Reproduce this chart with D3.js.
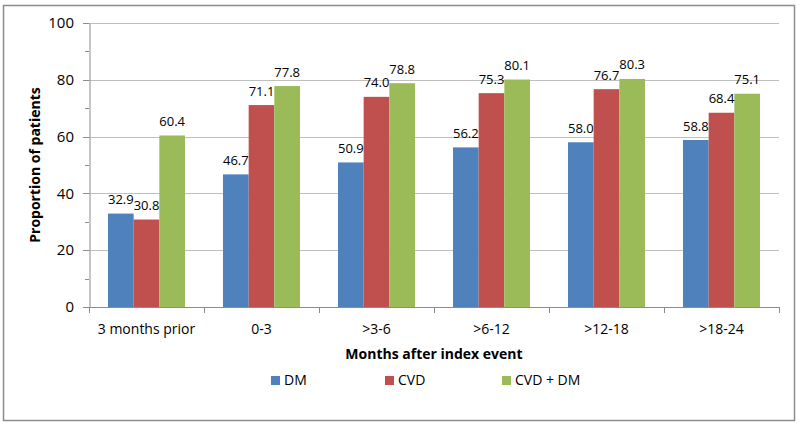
<!DOCTYPE html>
<html><head><meta charset="utf-8">
<script src="https://cdn.jsdelivr.net/npm/d3@7"></script>
<style>
body{margin:0;background:#fff;}
svg{display:block;font-family:"Open Sans", sans-serif;}
</style></head>
<body><svg id="c" width="800" height="426"></svg>
<script>
const categories = ["3 months prior","0-3",">3-6",">6-12",">12-18",">18-24"];
const seriesNames = ["DM","CVD","CVD + DM"];
const dmValues = [32.9,46.7,50.9,56.2,58.0,58.8];
const cvdValues = [30.8,71.1,74.0,75.3,76.7,68.4];
const cvdDmValues = [60.4,77.8,78.8,80.1,80.3,75.1];
const yTicks = [0,20,40,60,80,100];
const colors = ["#4F81BD","#C0504D","#9BBB59"];

(function(){
const svg = d3.select("#c");
svg.append("rect").attr("x",3.5).attr("y",5.5).attr("width",791).attr("height",415)
  .attr("fill","#fff").attr("stroke","#8c8c8c").attr("stroke-width",1.5);

const pL=89, pR=779, pT=23, pB=307;
const x = d3.scaleBand().domain(categories).range([pL,pR]).paddingInner(0).paddingOuter(0);
const y = d3.scaleLinear().domain([0,100]).range([pB,pT]);
const xs = d3.scaleBand().domain(seriesNames).range([0,x.bandwidth()]).paddingInner(0).paddingOuter(0.74);

svg.append("g").selectAll("line").data(yTicks.filter(d=>d>0)).join("line")
  .attr("x1",pL).attr("x2",pR).attr("y1",d=>Math.round(y(d))+0.5).attr("y2",d=>Math.round(y(d))+0.5)
  .attr("stroke","#bfbfbf").attr("stroke-width",1);

const series = [dmValues,cvdValues,cvdDmValues];
const g = svg.append("g");
series.forEach((vals,si)=>{
  g.selectAll(null).data(vals).join("rect")
   .attr("x",(d,i)=>x(categories[i])+xs(seriesNames[si]))
   .attr("width",xs.bandwidth())
   .attr("y",d=>y(d)).attr("height",d=>pB-y(d))
   .attr("fill",colors[si]);
});

const yAxis = d3.axisLeft(y).tickValues(d3.range(0,101,10)).tickSize(0).tickFormat("");
const ya = svg.append("g").attr("transform",`translate(${pL+0.5},0)`).call(yAxis);
ya.select(".domain").attr("stroke","#8c8c8c");
svg.append("g").selectAll("line").data(d3.range(0,101,10)).join("line")
  .attr("x1",d=>d%20===0?pL-6:pL-4).attr("x2",pL)
  .attr("y1",d=>Math.round(y(d))+0.5).attr("y2",d=>Math.round(y(d))+0.5)
  .attr("stroke","#8c8c8c");
svg.append("g").selectAll("text").data(yTicks).join("text")
  .attr("x",74).attr("y",d=>y(d)).attr("dy","0.35em").attr("text-anchor","end")
  .attr("font-size",15).attr("fill","#000").text(d=>d);

svg.append("line").attr("x1",pL).attr("x2",pR).attr("y1",pB+0.5).attr("y2",pB+0.5).attr("stroke","#8c8c8c");
const bounds = categories.map(c=>x(c)).concat([pR]);
svg.append("g").selectAll("line").data(bounds).join("line")
  .attr("x1",d=>Math.round(d)+0.5).attr("x2",d=>Math.round(d)+0.5).attr("y1",pB).attr("y2",pB+6)
  .attr("stroke","#8c8c8c");
svg.append("g").selectAll("text").data(categories).join("text")
  .attr("x",d=>x(d)+x.bandwidth()/2).attr("y",329).attr("dy","0.35em").attr("text-anchor","middle")
  .attr("font-size",14).attr("fill","#000").text(d=>d);

series.forEach((vals,si)=>{
  svg.append("g").selectAll("text").data(vals).join("text")
   .attr("x",(d,i)=>x(categories[i])+xs(seriesNames[si])+xs.bandwidth()/2)
   .attr("y",d=>y(d)-14).attr("dy","0.35em").attr("text-anchor","middle")
   .attr("font-size",13).attr("fill","#000").text(d=>d.toFixed(1));
});

svg.append("text").attr("x",(pL+pR)/2).attr("y",354).attr("dy","0.35em").attr("text-anchor","middle")
  .attr("font-size",14).attr("font-weight","bold").text("Months after index event");
svg.append("text").attr("transform",`translate(35,${(pT+pB)/2}) rotate(-90)`).attr("dy","0.35em")
  .attr("text-anchor","middle").attr("font-size",14).attr("font-weight","bold").text("Proportion of patients");

const legX = [271,385,502];
const lg = svg.append("g");
seriesNames.forEach((n,i)=>{
  lg.append("rect").attr("x",legX[i]).attr("y",376).attr("width",9).attr("height",9).attr("fill",colors[i]);
  lg.append("text").attr("x",legX[i]+13).attr("y",380.5).attr("dy","0.35em").attr("font-size",14).text(n);
});
})();
</script></body></html>
